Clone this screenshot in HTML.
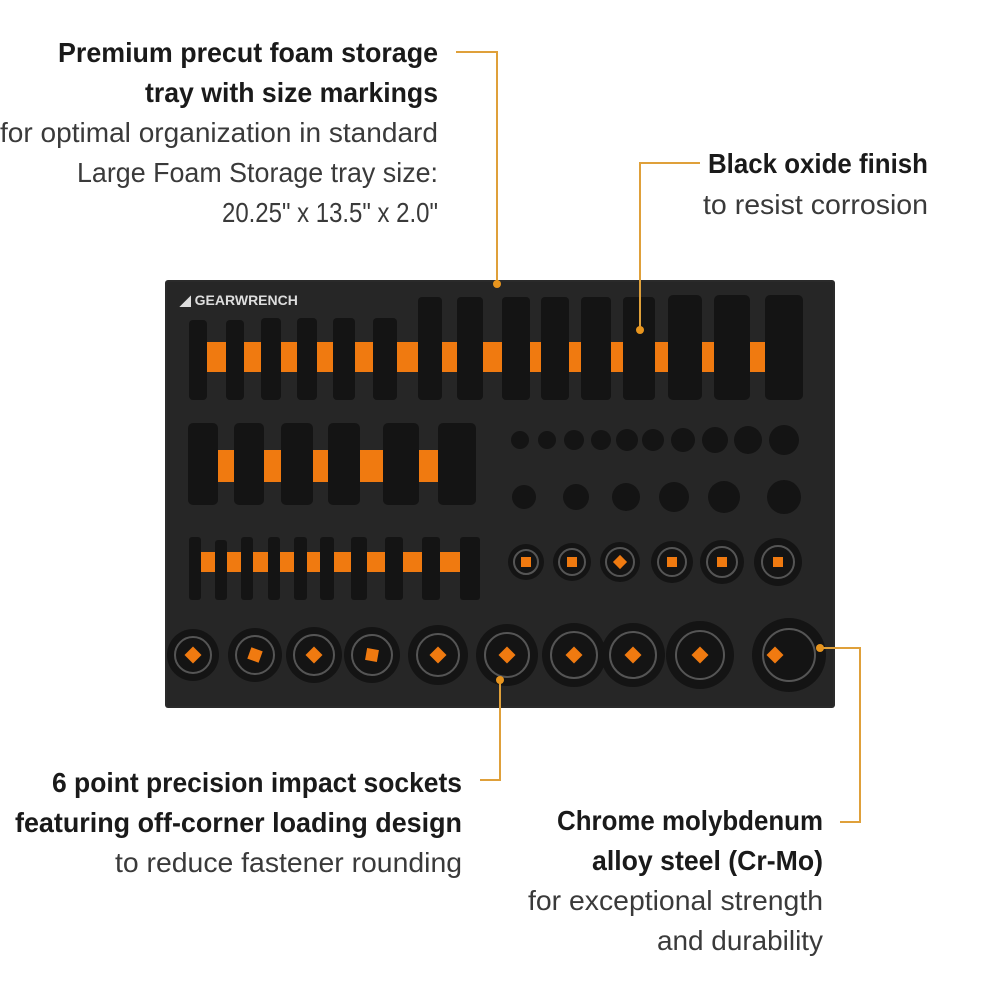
<!DOCTYPE html>
<html><head><meta charset="utf-8"><style>
html,body{margin:0;padding:0;background:#fff;}
svg{display:block;}
.h{font-family:"Liberation Sans Narrow","Liberation Sans",sans-serif;font-weight:bold;font-size:28px;fill:#1a1a1a;}
.b{font-family:"Liberation Sans Narrow","Liberation Sans",sans-serif;font-size:28px;fill:#3a3a3a;}
.l{fill:#777;font-family:"Liberation Sans",sans-serif;font-size:5px;font-weight:bold;text-anchor:middle;}
</style></head><body>
<svg width="990" height="990" viewBox="0 0 990 990" xmlns="http://www.w3.org/2000/svg">
<!-- texts -->
<text class="h" x="58" y="62" textLength="380" lengthAdjust="spacingAndGlyphs">Premium precut foam storage</text>
<text class="h" x="145" y="102" textLength="293" lengthAdjust="spacingAndGlyphs">tray with size markings</text>
<text class="b" x="0" y="142" textLength="438" lengthAdjust="spacingAndGlyphs">for optimal organization in standard</text>
<text class="b" x="77" y="182" textLength="361" lengthAdjust="spacingAndGlyphs">Large Foam Storage tray size:</text>
<text class="b" x="222" y="222" textLength="216" lengthAdjust="spacingAndGlyphs">20.25" x 13.5" x 2.0"</text>
<text class="h" x="708" y="173" textLength="220" lengthAdjust="spacingAndGlyphs">Black oxide finish</text>
<text class="b" x="703" y="214" textLength="225" lengthAdjust="spacingAndGlyphs">to resist corrosion</text>
<text class="h" x="52" y="792" textLength="410" lengthAdjust="spacingAndGlyphs">6 point precision impact sockets</text>
<text class="h" x="15" y="832" textLength="447" lengthAdjust="spacingAndGlyphs">featuring off-corner loading design</text>
<text class="b" x="115" y="872" textLength="347" lengthAdjust="spacingAndGlyphs">to reduce fastener rounding</text>
<text class="h" x="557" y="830" textLength="266" lengthAdjust="spacingAndGlyphs">Chrome molybdenum</text>
<text class="h" x="592" y="870" textLength="231" lengthAdjust="spacingAndGlyphs">alloy steel (Cr-Mo)</text>
<text class="b" x="528" y="910" textLength="295" lengthAdjust="spacingAndGlyphs">for exceptional strength</text>
<text class="b" x="657" y="950" textLength="166" lengthAdjust="spacingAndGlyphs">and durability</text>

<!-- tray -->
<rect x="165" y="280" width="670" height="428" rx="3" fill="#2a2a2a"/>
<rect x="167" y="282" width="666" height="424" fill="#262626"/>
<text x="180" y="305" font-family="Liberation Sans,sans-serif" font-weight="bold" font-size="14" fill="#ddd">◢ GEARWRENCH</text>
<!-- orange bands -->
<rect x="190" y="342" width="610" height="30" fill="#f07a10"/>
<rect x="190" y="450" width="250" height="32" fill="#f07a10"/>
<rect x="190" y="552" width="285" height="20" fill="#f07a10"/>
<g fill="#141414">
<!-- row1 deep sockets -->
<rect x="189" y="320" width="18" height="80" rx="4"/>
<rect x="226" y="320" width="18" height="80" rx="4"/>
<rect x="261" y="318" width="20" height="82" rx="4"/>
<rect x="297" y="318" width="20" height="82" rx="4"/>
<rect x="333" y="318" width="22" height="82" rx="4"/>
<rect x="373" y="318" width="24" height="82" rx="4"/>
<rect x="418" y="297" width="24" height="103" rx="4"/>
<rect x="457" y="297" width="26" height="103" rx="4"/>
<rect x="502" y="297" width="28" height="103" rx="4"/>
<rect x="541" y="297" width="28" height="103" rx="4"/>
<rect x="581" y="297" width="30" height="103" rx="4"/>
<rect x="623" y="297" width="32" height="103" rx="4"/>
<rect x="668" y="295" width="34" height="105" rx="5"/>
<rect x="714" y="295" width="36" height="105" rx="5"/>
<rect x="765" y="295" width="38" height="105" rx="5"/>
<!-- row2 -->
<rect x="188" y="423" width="30" height="82" rx="5"/>
<rect x="234" y="423" width="30" height="82" rx="5"/>
<rect x="281" y="423" width="32" height="82" rx="5"/>
<rect x="328" y="423" width="32" height="82" rx="5"/>
<rect x="383" y="423" width="36" height="82" rx="5"/>
<rect x="438" y="423" width="38" height="82" rx="5"/>
<!-- row3 -->
<rect x="189" y="537" width="12" height="63" rx="3"/>
<rect x="215" y="540" width="12" height="60" rx="3"/>
<rect x="241" y="537" width="12" height="63" rx="3"/>
<rect x="268" y="537" width="12" height="63" rx="3"/>
<rect x="294" y="537" width="13" height="63" rx="3"/>
<rect x="320" y="537" width="14" height="63" rx="3"/>
<rect x="351" y="537" width="16" height="63" rx="3"/>
<rect x="385" y="537" width="18" height="63" rx="3"/>
<rect x="422" y="537" width="18" height="63" rx="3"/>
<rect x="460" y="537" width="20" height="63" rx="3"/>
<!-- small sockets -->
<circle cx="520" cy="440" r="9"/><circle cx="547" cy="440" r="9"/><circle cx="574" cy="440" r="10"/>
<circle cx="601" cy="440" r="10"/><circle cx="627" cy="440" r="11"/><circle cx="653" cy="440" r="11"/>
<circle cx="683" cy="440" r="12"/><circle cx="715" cy="440" r="13"/><circle cx="748" cy="440" r="14"/>
<circle cx="784" cy="440" r="15"/>
<circle cx="524" cy="497" r="12"/><circle cx="576" cy="497" r="13"/><circle cx="626" cy="497" r="14"/>
<circle cx="674" cy="497" r="15"/><circle cx="724" cy="497" r="16"/><circle cx="784" cy="497" r="17"/>
<circle cx="526" cy="562" r="18"/><circle cx="572" cy="562" r="19"/><circle cx="620" cy="562" r="20"/>
<circle cx="672" cy="562" r="21"/><circle cx="722" cy="562" r="22"/><circle cx="778" cy="562" r="24"/>
<!-- bottom row -->
<circle cx="193" cy="655" r="26"/><circle cx="255" cy="655" r="27"/><circle cx="314" cy="655" r="28"/>
<circle cx="372" cy="655" r="28"/><circle cx="438" cy="655" r="30"/><circle cx="507" cy="655" r="31"/>
<circle cx="574" cy="655" r="32"/><circle cx="633" cy="655" r="32"/><circle cx="700" cy="655" r="34"/>
<circle cx="789" cy="655" r="37"/>
</g>
<g fill="none" stroke="#555" stroke-width="2">
<circle cx="193" cy="655" r="18"/><circle cx="255" cy="655" r="19"/><circle cx="314" cy="655" r="20"/>
<circle cx="372" cy="655" r="20"/><circle cx="438" cy="655" r="21"/><circle cx="507" cy="655" r="22"/>
<circle cx="574" cy="655" r="23"/><circle cx="633" cy="655" r="23"/><circle cx="700" cy="655" r="24"/>
<circle cx="789" cy="655" r="26"/>
<circle cx="526" cy="562" r="12"/><circle cx="572" cy="562" r="13"/><circle cx="620" cy="562" r="14"/>
<circle cx="672" cy="562" r="14"/><circle cx="722" cy="562" r="15"/><circle cx="778" cy="562" r="16"/>
</g>
<g fill="#f07a10">
<rect x="187" y="649" width="12" height="12" transform="rotate(45 193 655)"/>
<rect x="249" y="649" width="12" height="12" transform="rotate(20 255 655)"/>
<rect x="308" y="649" width="12" height="12" transform="rotate(45 314 655)"/>
<rect x="366" y="649" width="12" height="12" transform="rotate(10 372 655)"/>
<rect x="432" y="649" width="12" height="12" transform="rotate(45 438 655)"/>
<rect x="501" y="649" width="12" height="12" transform="rotate(45 507 655)"/>
<rect x="568" y="649" width="12" height="12" transform="rotate(45 574 655)"/>
<rect x="627" y="649" width="12" height="12" transform="rotate(45 633 655)"/>
<rect x="694" y="649" width="12" height="12" transform="rotate(45 700 655)"/>
<rect x="769" y="649" width="12" height="12" transform="rotate(45 775 655)"/>
<rect x="521" y="557" width="10" height="10"/><rect x="567" y="557" width="10" height="10"/>
<rect x="615" y="557" width="10" height="10" transform="rotate(45 620 562)"/>
<rect x="667" y="557" width="10" height="10"/><rect x="717" y="557" width="10" height="10"/>
<rect x="773" y="557" width="10" height="10"/>
</g>
<!-- leader lines -->
<g stroke="#dfa03a" stroke-width="2" fill="none">
<polyline points="456,52 497,52 497,283"/>
<polyline points="700,163 640,163 640,330"/>
<polyline points="480,780 500,780 500,680"/>
<polyline points="822,648 860,648 860,822 840,822"/>
</g>
<g fill="#e8951e">
<circle cx="497" cy="284" r="4"/><circle cx="640" cy="330" r="4"/>
<circle cx="500" cy="680" r="4"/><circle cx="820" cy="648" r="4"/>
</g>
</svg>
</body></html>
